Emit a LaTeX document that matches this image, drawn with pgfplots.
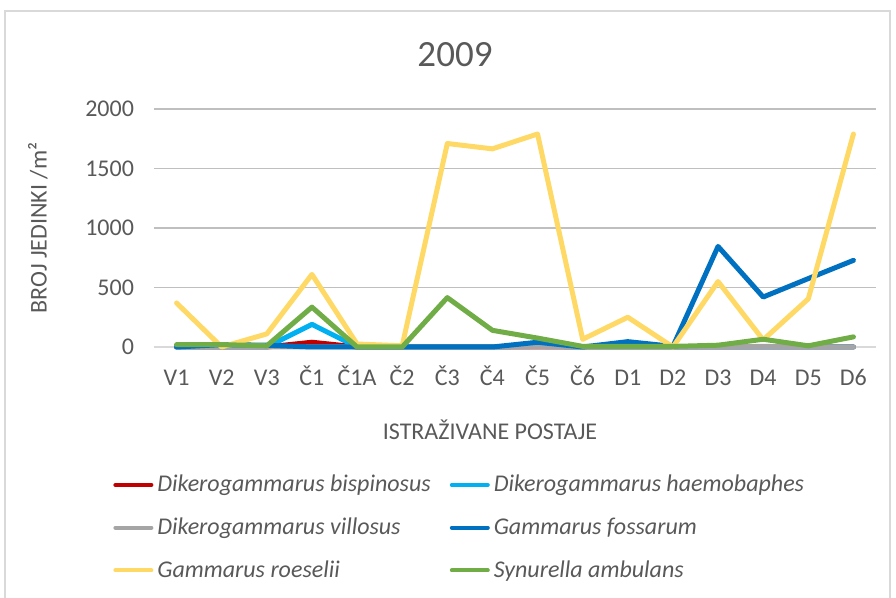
\documentclass[border=0pt]{standalone}
\usepackage{fontspec}
\setmainfont{Carlito}
\usepackage{pgfplots}
\pgfplotsset{compat=1.18}
\definecolor{txt}{HTML}{595959}
\definecolor{grid}{HTML}{D9D9D9}
\definecolor{cbisp}{HTML}{C00000}
\definecolor{chaem}{HTML}{00B0F0}
\definecolor{cvill}{HTML}{A5A5A5}
\definecolor{cfoss}{HTML}{0070C0}
\definecolor{croes}{HTML}{FFD966}
\definecolor{camb}{HTML}{70AD47}
\begin{document}
\begin{tikzpicture}
\path[use as bounding box] (-77pt,-125.5pt) rectangle (371pt,173.5pt);
\draw[grid, line width=0.6pt] (-74.5pt,-140pt) -- (-74.5pt,168pt) -- (368pt,168pt) -- (368pt,-140pt);
\begin{axis}[
  at={(0pt,0pt)}, anchor=south west,
  scale only axis,
  width=361pt, height=119pt,
  xmin=-0.5, xmax=15.5,
  ymin=0, ymax=2000,
  xtick={0,...,15},
  xticklabels={V1,V2,V3,Č1,Č1A,Č2,Č3,Č4,Č5,Č6,D1,D2,D3,D4,D5,D6},
  ytick={0,500,1000,1500,2000},
  /pgf/number format/assume math mode=true,
  scaled y ticks=false,
  y tick label style={/pgf/number format/1000 sep={}},
  major tick length=0pt,
  xticklabel style={anchor=base, yshift=-19.3pt, font=\fontsize{12}{14}\selectfont, text=txt},
  yticklabel style={anchor=east, xshift=-6.5pt, font=\fontsize{12}{14}\selectfont, text=txt},
  axis x line*=bottom, axis y line*=left,
  x axis line style={grid, line width=0.8pt, -},
  y axis line style={draw=none},
  ymajorgrids, xmajorgrids=false, grid style={grid, line width=0.8pt},
  clip=false,
  every axis plot/.append style={line width=2.5pt, line cap=round, line join=round, mark=none},
  legend columns=2,
  legend cell align=left,
  legend style={at={(-0.0568,-0.52)}, anchor=north west, draw=none, fill=none,
    font=\fontsize{12}{14}\selectfont\itshape, text=txt, inner sep=0pt,
    row sep=7.5pt,
    /tikz/every even column/.append style={column sep=7.5pt}},
  legend image code/.code={\draw[#1, line width=2pt, line cap=round] (0pt,0pt) -- (18pt,0pt);},
]
\addplot[cbisp] coordinates {(0,0)(1,0)(2,0)(3,40)(4,0)(5,0)(6,0)(7,0)(8,0)(9,0)(10,0)(11,0)(12,0)(13,0)(14,0)(15,0)};
\addlegendentry{Dikerogammarus bispinosus}
\addplot[chaem] coordinates {(0,0)(1,0)(2,0)(3,190)(4,0)(5,0)(6,0)(7,0)(8,5)(9,0)(10,0)(11,0)(12,0)(13,0)(14,0)(15,0)};
\addlegendentry{Dikerogammarus haemobaphes}
\addplot[cvill] coordinates {(0,0)(1,0)(2,0)(3,0)(4,0)(5,0)(6,0)(7,0)(8,0)(9,0)(10,0)(11,0)(12,0)(13,5)(14,0)(15,0)};
\addlegendentry{Dikerogammarus villosus}
\addplot[cfoss] coordinates {(0,0)(1,20)(2,15)(3,0)(4,0)(5,0)(6,0)(7,0)(8,40)(9,0)(10,45)(11,5)(12,845)(13,420)(14,575)(15,728)};
\addlegendentry{Gammarus fossarum}
\addplot[croes] coordinates {(0,370)(1,0)(2,110)(3,610)(4,25)(5,10)(6,1710)(7,1665)(8,1790)(9,65)(10,250)(11,0)(12,550)(13,60)(14,405)(15,1790)};
\addlegendentry{Gammarus roeselii}
\addplot[camb] coordinates {(0,20)(1,20)(2,10)(3,335)(4,0)(5,0)(6,415)(7,140)(8,75)(9,5)(10,5)(11,5)(12,15)(13,65)(14,10)(15,85)};
\addlegendentry{Synurella ambulans}
\end{axis}
\node[text=txt, font=\fontsize{18.5}{22}\selectfont] at (150.5pt,146pt) {2009};
\node[text=txt, font=\fontsize{12}{14}\selectfont, rotate=90] at (-58pt,59.5pt) {BROJ JEDINKI /m²};
\node[text=txt, font=\fontsize{12}{14}\selectfont] at (168pt,-41.5pt) {ISTRAŽIVANE POSTAJE};
\end{tikzpicture}
\end{document}
